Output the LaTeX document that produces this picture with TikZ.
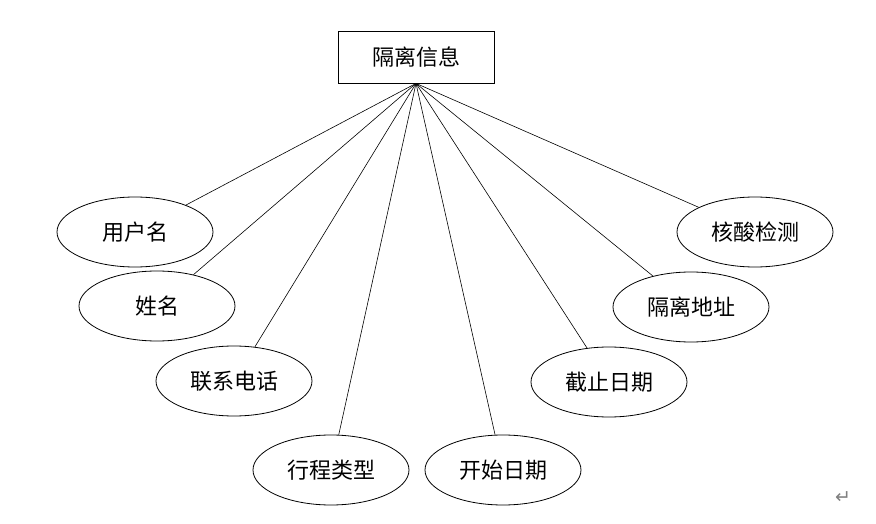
\documentclass[tikz,border=0pt]{standalone}
\usepackage{fontspec}
\newfontfamily\cjk{Noto Sans CJK SC}
\newfontfamily\symfont{DejaVu Sans}
\usetikzlibrary{shapes.geometric}
\begin{document}
\begin{tikzpicture}[x=1pt,y=-1pt,
 entity/.style={draw,line width=0.8pt,minimum width=156pt,minimum height=52pt,inner sep=0pt,font=\cjk\fontsize{22}{26}\selectfont},
 attr/.style={draw,ellipse,line width=0.8pt,minimum width=156pt,minimum height=70pt,inner sep=0pt,font=\cjk\fontsize{22}{26}\selectfont},
 link/.style={line width=0.6pt}]
 \useasboundingbox[fill=white] (0,0) rectangle (876,524);
 % entity
 \node[entity] (info) at (416,57) {隔离信息};
 % attributes
 \node[attr] (user)  at (135,232) {用户名};
 \node[attr] (name)  at (157,306) {姓名};
 \node[attr] (phone) at (234,381) {联系电话};
 \node[attr] (trip)  at (331,470) {行程类型};
 \node[attr] (start) at (503,470) {开始日期};
 \node[attr] (end)   at (609,382) {截止日期};
 \node[attr] (addr)  at (691,307) {隔离地址};
 \node[attr] (test)  at (755,232) {核酸检测};
 \node[text=gray,font=\symfont\fontsize{19}{22}\selectfont] (mark) at (843,498) {↵};
 % links
 \foreach \a in {user,name,phone,trip,start,end,addr,test}
  \draw[link] (info.south) -- (\a);
\end{tikzpicture}
\end{document}
